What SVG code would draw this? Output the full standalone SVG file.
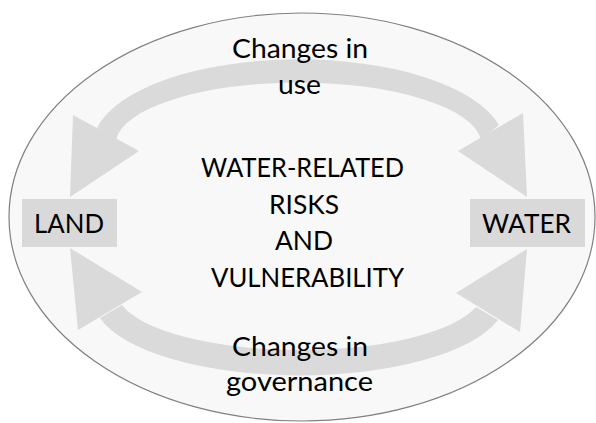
<svg xmlns="http://www.w3.org/2000/svg" width="596" height="423" viewBox="0 0 596 423">
  <style>
    .band { fill: #dadada; stroke: none; }
    .box { fill: #d9d9d9; stroke: none; }
    .t { font-family: Lato, "Open Sans", "Liberation Sans", sans-serif; font-size: 26.5px; fill: #000; text-anchor: middle; }
  </style>
  <rect x="0" y="0" width="596" height="423" fill="#ffffff"/>
  <g id="frame">
    <ellipse cx="302" cy="217" rx="293" ry="204" fill="#f8f8f8" stroke="#808080" stroke-width="1.2"/>
  </g>
  <g id="connectors">
    <g id="arrow-use">
      <path class="band" d="M 97,128 A 206 86 0 0 1 499,125 L 481,140 A 183 62 0 0 0 116,140 Z"/>
      <polygon class="band" points="73,115 139,151 70,197"/>
      <polygon class="band" points="523,113 458,151 527,197"/>
    </g>
    <g id="arrow-governance">
      <path class="band" d="M 100,318 A 206 76 0 0 0 498,320 L 476,307 A 183 59 0 0 1 122,305 Z"/>
      <polygon class="band" points="78,330 142,292 70,248"/>
      <polygon class="band" points="520,332 456,293 527,249"/>
    </g>
    <g id="label-use">
      <text class="t" x="300" y="57.5" textLength="136" lengthAdjust="spacingAndGlyphs">Changes in</text>
      <text class="t" x="299.5" y="93.5" textLength="43" lengthAdjust="spacingAndGlyphs">use</text>
    </g>
    <g id="label-governance">
      <text class="t" x="300" y="356" textLength="136" lengthAdjust="spacingAndGlyphs">Changes in</text>
      <text class="t" x="299.5" y="391" textLength="147" lengthAdjust="spacingAndGlyphs">governance</text>
    </g>
  </g>
  <g id="land">
    <rect class="box" x="22" y="199" width="95" height="48"/>
    <text class="t" x="69" y="233" textLength="70" lengthAdjust="spacingAndGlyphs">LAND</text>
  </g>
  <g id="water">
    <rect class="box" x="470" y="199" width="115" height="48"/>
    <text class="t" x="526.5" y="233" textLength="89" lengthAdjust="spacingAndGlyphs">WATER</text>
  </g>
  <g id="risks">
    <text class="t" x="302.5" y="177" textLength="203" lengthAdjust="spacingAndGlyphs">WATER-RELATED</text>
    <text class="t" x="304" y="213.5" textLength="70" lengthAdjust="spacingAndGlyphs">RISKS</text>
    <text class="t" x="304" y="250" textLength="58" lengthAdjust="spacingAndGlyphs">AND</text>
    <text class="t" x="307.5" y="287" textLength="193" lengthAdjust="spacingAndGlyphs">VULNERABILITY</text>
  </g>
</svg>
